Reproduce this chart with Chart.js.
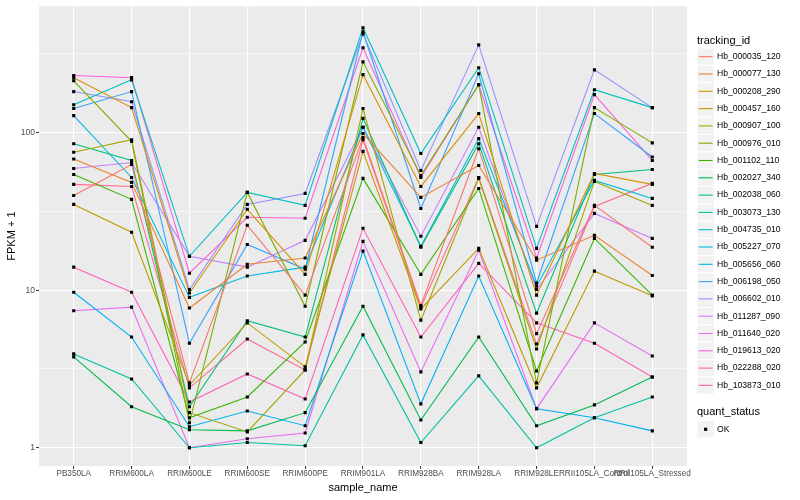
<!DOCTYPE html>
<html lang="en">
<head>
    <meta charset="UTF-8">
    <title>FPKM by sample</title>
    <script src="https://cdn.jsdelivr.net/npm/chart.js"></script>
    <style>
        body { margin: 0; background: #ffffff; }
        #wrap { width: 800px; height: 500px; }
    </style>
</head>
<body>
<div id="wrap"><canvas id="fpkmChart" width="800" height="500"></canvas></div>
<script>
// sample_name categories along x
var samples = ['PB350LA', 'RRIM600LA', 'RRIM600LE', 'RRIM600SE', 'RRIM600PE', 'RRIM901LA',
               'RRIM928BA', 'RRIM928LA', 'RRIM928LE', 'RRII105LA_Control', 'RRII105LA_Stressed'];

var trackingIds = ['Hb_000035_120', 'Hb_000077_130', 'Hb_000208_290', 'Hb_000457_160', 'Hb_000907_100',
                   'Hb_000976_010', 'Hb_001102_110', 'Hb_002027_340', 'Hb_002038_060', 'Hb_003073_130',
                   'Hb_004735_010', 'Hb_005227_070', 'Hb_005656_060', 'Hb_006198_050', 'Hb_006602_010',
                   'Hb_011287_090', 'Hb_011640_020', 'Hb_019613_020', 'Hb_022288_020', 'Hb_103873_010'];

// FPKM + 1, one value per sample
var hb_000035_120 = [39.9, 62.7, 2.58, 25.8, 9.3, 93, 8.0, 79, 5.3, 34.5, 18.7];
var hb_000077_130 = [68, 48.3, 7.7, 14.6, 16, 98.6, 38.8, 61.8, 15.5, 22.3, 12.4];
var hb_000208_290 = [223, 144, 9.6, 32.6, 12.6, 233, 45.5, 132, 9.3, 55, 46.9];
var hb_000457_160 = [35, 23.3, 2.5, 6.2, 3.26, 76, 7.6, 18.4, 2.4, 13.2, 9.2];
var hb_000907_100 = [75, 90, 1.67, 1.26, 3.12, 142, 6.45, 51.2, 4.23, 49, 34.5];
var hb_000976_010 = [213, 88, 1.44, 41.7, 7.9, 281, 53.4, 201, 2.58, 144, 86];
var hb_001102_110 = [54.2, 37.7, 1.55, 2.1, 4.69, 51.2, 12.6, 44.2, 3.07, 21.3, 9.3];
var hb_002027_340 = [3.77, 1.82, 1.30, 1.28, 1.67, 7.9, 1.50, 5.04, 1.38, 1.87, 2.81];
var hb_002038_060 = [85, 66.5, 1.82, 6.4, 5.04, 123, 18.7, 85, 7.15, 54.2, 58.3];
var hb_003073_130 = [3.94, 2.73, 1.0, 1.08, 1.03, 5.2, 1.08, 2.86, 1.0, 1.55, 2.1];
var hb_004735_010 = [150, 216, 16.4, 41.7, 34.5, 462, 73.6, 258, 18.4, 187, 144];
var hb_005227_070 = [128, 51.9, 9.0, 12.3, 14, 108, 19, 91.6, 10.6, 49.7, 38.2];
var hb_005656_060 = [9.7, 5.04, 1.36, 1.71, 1.38, 17.7, 1.90, 12.3, 1.77, 1.55, 1.28];
var hb_006198_050 = [142, 182, 4.6, 19.5, 13.6, 436, 33, 236, 11.1, 132, 70];
var hb_006602_010 = [182, 157, 10.1, 35, 41.1, 423, 57.5, 360, 25.4, 250, 144];
var hb_011287_090 = [59.2, 64.5, 16.4, 14, 20.7, 108, 22, 108, 10.1, 30.7, 21.3];
var hb_011640_020 = [7.4, 7.8, 1.0, 1.14, 1.24, 20.4, 3.03, 17.9, 1.77, 6.2, 3.82];
var hb_019613_020 = [230, 223, 12.8, 29, 28.6, 345, 51.9, 201, 16, 174, 66.5];
var hb_022288_020 = [14, 9.7, 1.95, 2.94, 2.04, 24.7, 5.04, 14.8, 6.2, 4.6, 2.81];
var hb_103873_010 = [46.9, 45.5, 2.4, 4.9, 3.12, 90, 7.8, 51.9, 4.55, 34, 47.6];

var seriesValues = [hb_000035_120, hb_000077_130, hb_000208_290, hb_000457_160, hb_000907_100,
                    hb_000976_010, hb_001102_110, hb_002027_340, hb_002038_060, hb_003073_130,
                    hb_004735_010, hb_005227_070, hb_005656_060, hb_006198_050, hb_006602_010,
                    hb_011287_090, hb_011640_020, hb_019613_020, hb_022288_020, hb_103873_010];

// y axis: major breaks get labels, minor breaks only grid
var yMajor = [1, 10, 100];
var yMinor = [3.162, 31.62, 316.2];

// ggplot default hue palette for 20 levels
var palette = ['#F8766D', '#EA8331', '#D89000', '#C09B00', '#A3A500', '#7CAE00', '#39B600', '#00BB4E',
               '#00BF7D', '#00C1A3', '#00BFC4', '#00BAE0', '#00B0F6', '#35A2FF', '#9590FF', '#C77CFF',
               '#E76BF3', '#FA62DB', '#FF62BC', '#FF6C91'];

var FONT = '"Liberation Sans", Arial, sans-serif';

var datasets = [];
seriesValues.forEach(function (vals, k) {
    datasets.push({
        label: trackingIds[k],
        data: vals.map(function (v, i) { return { x: i, y: v }; }),
        borderColor: palette[k],
        borderWidth: 1.1,
        pointRadius: 0,
        fill: false,
        tension: 0,
        order: 1
    });
});
// points on top of every line, like geom_point after geom_line
seriesValues.forEach(function (vals, k) {
    datasets.push({
        label: trackingIds[k] + ' OK',
        data: vals.map(function (v, i) { return { x: i, y: v }; }),
        showLine: false,
        pointStyle: 'rect',
        pointRadius: 2.2,
        pointBackgroundColor: '#000000',
        pointBorderWidth: 0,
        order: 0
    });
});

function isMajor(v) {
    return yMajor.some(function (m) { return Math.abs(m - v) < 1e-6; });
}

var panelPlugin = {
    id: 'panel',
    beforeDraw: function (chart) {
        var c = chart.ctx, a = chart.chartArea;
        c.save();
        c.fillStyle = '#FFFFFF';
        c.fillRect(0, 0, chart.width, chart.height);
        c.fillStyle = '#EBEBEB';
        c.fillRect(a.left, a.top, a.right - a.left, a.bottom - a.top);
        c.restore();
    }
};

var legendPlugin = {
    id: 'ggLegend',
    afterDraw: function (chart) {
        var c = chart.ctx;
        var x0 = 697, size = 17.3, y0 = 56.7;
        c.save();
        c.textBaseline = 'middle';
        c.fillStyle = '#000000';
        c.font = '11px ' + FONT;
        c.fillText('tracking_id', x0, 40.5);
        trackingIds.forEach(function (id, i) {
            var yc = y0 + i * size;
            c.fillStyle = '#F2F2F2';
            c.fillRect(x0, yc - size / 2, size, size);
            c.strokeStyle = '#FFFFFF';
            c.lineWidth = 1;
            c.strokeRect(x0, yc - size / 2, size, size);
            c.strokeStyle = palette[i];
            c.lineWidth = 1.1;
            c.beginPath();
            c.moveTo(x0 + 1.7, yc);
            c.lineTo(x0 + size - 1.7, yc);
            c.stroke();
            c.fillStyle = '#000000';
            c.font = '8.6px ' + FONT;
            c.fillText(id, 717, yc);
        });
        c.font = '11px ' + FONT;
        c.fillText('quant_status', x0, 412.3);
        var yk = 429.3;
        c.fillStyle = '#F2F2F2';
        c.fillRect(x0, yk - size / 2, size, size);
        c.strokeStyle = '#FFFFFF';
        c.strokeRect(x0, yk - size / 2, size, size);
        c.fillStyle = '#000000';
        c.fillRect(x0 + size / 2 - 1.6, yk - 1.6, 3.2, 3.2);
        c.font = '8.6px ' + FONT;
        c.fillText('OK', 717, yk);
        c.restore();
    }
};

var ctx = document.getElementById('fpkmChart').getContext('2d');
var fpkmChart = new Chart(ctx, {
    type: 'line',
    data: { datasets: datasets },
    options: {
        responsive: false,
        animation: false,
        layout: { padding: { left: 0, right: 113, top: 5, bottom: 0 } },
        plugins: {
            legend: { display: false },
            tooltip: { enabled: false }
        },
        scales: {
            x: {
                type: 'linear',
                min: -0.6,
                max: 10.6,
                afterBuildTicks: function (scale) {
                    scale.ticks = samples.map(function (s, i) { return { value: i }; });
                },
                afterFit: function (scale) { scale.height = 34; },
                ticks: {
                    autoSkip: false,
                    maxRotation: 0,
                    minRotation: 0,
                    padding: 0,
                    color: '#4D4D4D',
                    font: { family: FONT, size: 8.2 },
                    callback: function (v) { return samples[v]; }
                },
                grid: {
                    color: '#FFFFFF',
                    lineWidth: 1.1,
                    tickColor: '#333333',
                    tickLength: 3,
                    tickWidth: 1
                },
                border: { display: false },
                title: {
                    display: true,
                    text: 'sample_name',
                    color: '#000000',
                    font: { family: FONT, size: 11 },
                    padding: { top: 0, bottom: 5 }
                }
            },
            y: {
                type: 'logarithmic',
                min: 0.766,
                max: 634,
                afterBuildTicks: function (scale) {
                    scale.ticks = yMajor.concat(yMinor).sort(function (a, b) { return a - b; })
                        .map(function (v) { return { value: v }; });
                },
                afterFit: function (scale) { scale.width = 39; },
                ticks: {
                    autoSkip: false,
                    padding: 1,
                    color: '#4D4D4D',
                    font: { family: FONT, size: 8.6 },
                    callback: function (v) { return isMajor(v) ? String(Math.round(v)) : ''; }
                },
                grid: {
                    color: '#FFFFFF',
                    lineWidth: function (c) { return c.tick && isMajor(c.tick.value) ? 1.1 : 0.55; },
                    tickColor: function (c) { return c.tick && isMajor(c.tick.value) ? '#333333' : 'rgba(0,0,0,0)'; },
                    tickLength: 3,
                    tickWidth: 1
                },
                border: { display: false },
                title: {
                    display: true,
                    text: 'FPKM + 1',
                    color: '#000000',
                    font: { family: FONT, size: 11 },
                    padding: { top: 5, bottom: 0 }
                }
            }
        }
    },
    plugins: [panelPlugin, legendPlugin]
});
</script>
</body>
</html>
